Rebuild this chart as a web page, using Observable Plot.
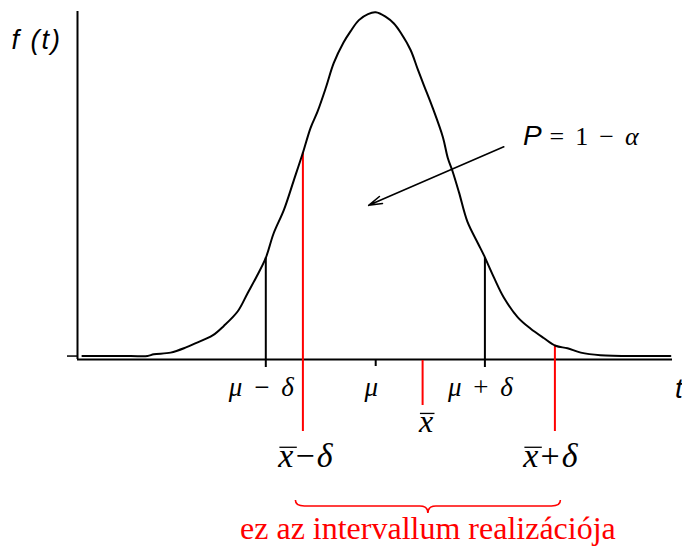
<!DOCTYPE html>
<html>
<head>
<meta charset="utf-8">
<script src="https://cdn.jsdelivr.net/npm/d3@7"></script>
<script src="https://cdn.jsdelivr.net/npm/@observablehq/plot@0.6"></script>
<style>
  html, body { margin: 0; padding: 0; background: #fff; }
  svg { display: block; }
</style>
</head>
<body>
<div id="chart"></div>
<script>
// Density curve f(t), t measured in standard deviations from μ
const curveT = [-4.19, -3.5, -3.26, -3.17, -2.93, -2.71, -2.57, -2.33, -2.17, -1.97, -1.83, -1.71,
  -1.57, -1.46, -1.31, -1.17, -1.04, -0.93, -0.83, -0.71, -0.60, -0.46, -0.36, -0.24, -0.11, 0,
  0.14, 0.26, 0.36, 0.50, 0.60, 0.69, 0.81, 0.96, 1.03, 1.10, 1.19, 1.31, 1.46, 1.54, 1.69, 1.83,
  2.03, 2.21, 2.40, 2.57, 2.74, 2.93, 3.21, 3.79, 4.21];
const curveF = [0, 0, 0, 0.002, 0.004, 0.010, 0.015, 0.024, 0.035, 0.052, 0.073, 0.091,
  0.114, 0.142, 0.170, 0.204, 0.236, 0.265, 0.284, 0.312, 0.340, 0.364, 0.377, 0.390, 0.397, 0.399,
  0.394, 0.386, 0.375, 0.355, 0.333, 0.314, 0.289, 0.254, 0.230, 0.214, 0.190, 0.156, 0.131, 0.118, 0.091, 0.068,
  0.045, 0.032, 0.021, 0.012, 0.009, 0.004, 0.001, 0, 0];

// Points on the t axis
const mu = 0;
const muMinusDelta = -1.57;
const muPlusDelta = 1.56;
const xBar = 0.67;
const xBarMinusDelta = -1.04;
const xBarPlusDelta = 2.56;

// Labels
const tickPositions = [muMinusDelta, mu, muPlusDelta];
const tickLabels = ["μ − δ", "μ", "μ + δ"];
const xBarLabel = "x\u0304";
const intervalPositions = [xBarMinusDelta, xBarPlusDelta];
const intervalLabels = ["x\u0304−δ", "x\u0304+δ"];
const yAxisLabel = "f (t)";
const xAxisLabel = "t";
const caption = "ez az intervallum realizációja";

// Probability annotation: arrow from the label into the area under the curve
const pointerFrom = [1.83, 0.243];
const pointerTo = [-0.10, 0.175];
const probabilityPos = [2.11, 0.245];
const probabilityTerms = ["P", "=", "1", "−", "α"];

// Plot extent
const tDomain = [-4.26, 4.24];
const fDomain = [-0.004, 0.4];
const axisF = fDomain[0];

const curve = curveT.map((t, i) => ({t, f: curveF[i]}));
const fAt = (t) => {
  const i = Math.max(1, Math.min(curveT.length - 1, d3.bisectLeft(curveT, t)));
  const t0 = curveT[i - 1], t1 = curveT[i];
  const k = (t - t0) / (t1 - t0);
  return curveF[i - 1] + k * (curveF[i] - curveF[i - 1]);
};

const SERIF = "'Liberation Serif', 'Times New Roman', serif";
const SANS = "'Liberation Sans', Arial, sans-serif";
const RED = "#ff0000";

// Write a formula: letters italic, operators upright; a combining macron marks an overlined letter
function mathText(parent, str, {x, y, size, family = SERIF, anchor = "middle", fill = "black", spacing = 0, wordSpacing = 0}) {
  const text = parent.append("text")
    .attr("x", x).attr("y", y)
    .attr("text-anchor", anchor)
    .attr("font-family", family)
    .attr("font-size", size)
    .attr("letter-spacing", spacing)
    .attr("word-spacing", wordSpacing)
    .attr("fill", fill);
  const chars = Array.from(str);
  for (let i = 0; i < chars.length; i++) {
    const c = chars[i];
    const ts = text.append("tspan").text(c);
    if (/[A-Za-zα-ωΑ-Ω]/.test(c)) ts.attr("font-style", "italic");
    if (chars[i + 1] === "\u0304") { ts.attr("data-bar", size); i++; }
  }
  return text;
}

// Annotations drawn in screen space from the plot's scales
function annotations(index, scales, values, dims) {
  const {x, y} = scales;
  const g = d3.create("svg:g");
  const axisY = y(axisF);

  tickPositions.forEach((t, i) =>
    mathText(g, tickLabels[i], {x: x(t) - 4, y: axisY + 37, size: 27, wordSpacing: 5}));
  mathText(g, xBarLabel, {x: x(xBar) + 4, y: axisY + 73, size: 32});
  const intervalShift = [4, -3];
  intervalPositions.forEach((t, i) =>
    mathText(g, intervalLabels[i], {x: x(t) + intervalShift[i], y: axisY + 108, size: 34, spacing: 2}));

  // axis titles
  g.append("text").attr("x", dims.marginLeft - 15).attr("y", y(fDomain[1]) + 38)
    .attr("text-anchor", "end").attr("font-family", SANS).attr("font-style", "italic")
    .attr("font-size", 27).attr("letter-spacing", 2).text(yAxisLabel);
  g.append("text").attr("x", x(tDomain[1]) + 3).attr("y", axisY + 39)
    .attr("text-anchor", "start").attr("font-family", SANS).attr("font-style", "italic")
    .attr("font-size", 28).text(xAxisLabel);

  // P = 1 − α
  const p = g.append("text").attr("x", x(probabilityPos[0])).attr("y", y(probabilityPos[1]))
    .attr("text-anchor", "start");
  probabilityTerms.forEach((c, i) => {
    const ts = p.append("tspan").text(c);
    if (i === 0) {
      ts.attr("font-family", SANS).attr("font-style", "italic").attr("font-size", 28);
    } else {
      ts.attr("font-family", SERIF).attr("font-size", 26).attr("dx", i === 1 ? 8 : 11);
      if (/[α-ω]/.test(c)) ts.attr("font-style", "italic");
    }
  });

  // brace under the interval
  const bx0 = x(xBarMinusDelta) - 7, bx1 = x(xBarPlusDelta) + 6, bm = (bx0 + bx1) / 2;
  const by = axisY + 147, top = axisY + 141, tip = axisY + 154;
  g.append("path")
    .attr("d", `M${bx0},${top} Q${bx0},${by} ${bx0 + 9},${by} L${bm - 8},${by} Q${bm},${by} ${bm},${tip}`
      + ` Q${bm},${by} ${bm + 8},${by} L${bx1 - 9},${by} Q${bx1},${by} ${bx1},${top}`)
    .attr("fill", "none").attr("stroke", RED).attr("stroke-width", 1.6);

  g.append("text").attr("x", bm).attr("y", axisY + 180)
    .attr("text-anchor", "middle").attr("font-family", SERIF).attr("font-size", 32)
    .attr("fill", RED).text(caption);
  return g.node();
}

const chart = Plot.plot({
  width: 682,
  height: 548,
  marginLeft: 77,
  marginRight: 10,
  marginTop: 11,
  marginBottom: 189,
  x: {domain: tDomain, axis: null},
  y: {domain: fDomain, axis: null},
  marks: [
    // axes
    Plot.ruleX([{t: tDomain[0]}], {x: "t", y1: fDomain[0], y2: fDomain[1], stroke: "black", strokeWidth: 2}),
    Plot.ruleY([{f: axisF}], {y: "f", x1: tDomain[0], x2: tDomain[1], stroke: "black", strokeWidth: 2}),
    Plot.ruleY([{f: 0}], {y: "f", x1: tDomain[0], x2: tDomain[0], insetLeft: -10, stroke: "black", strokeWidth: 1.5}),
    // μ ± δ and μ
    Plot.ruleX([muMinusDelta, muPlusDelta].map(t => ({t, f: fAt(t)})),
      {x: "t", y1: "f", y2: axisF, insetBottom: -8, stroke: "black", strokeWidth: 2}),
    Plot.ruleX([{t: mu}], {x: "t", y1: axisF, y2: axisF, insetBottom: -7, stroke: "black", strokeWidth: 2}),
    // the realised interval
    Plot.ruleX([xBarMinusDelta, xBarPlusDelta].map(t => ({t, f: fAt(t)})),
      {x: "t", y1: "f", y2: axisF, insetBottom: -72, stroke: RED, strokeWidth: 2}),
    Plot.ruleX([{t: xBar}], {x: "t", y1: axisF, y2: axisF, insetTop: 1, insetBottom: -46, stroke: RED, strokeWidth: 2}),
    // density curve
    Plot.line(curve, {x: "t", y: "f", stroke: "black", strokeWidth: 2, curve: "catmull-rom"}),
    Plot.arrow([{x1: pointerFrom[0], y1: pointerFrom[1], x2: pointerTo[0], y2: pointerTo[1]}],
      {x1: "x1", y1: "y1", x2: "x2", y2: "y2", stroke: "black", strokeWidth: 1.6, headLength: 13, headAngle: 32}),
    annotations
  ]
});
d3.select(chart).attr("overflow", "visible");
document.getElementById("chart").append(chart);

// overline the letters marked with a macron
d3.select(chart).selectAll("tspan[data-bar]").each(function () {
  const size = +this.getAttribute("data-bar");
  const box = this.getBBox();
  const base = +this.parentNode.getAttribute("y");
  const yy = base - size * 0.58;
  d3.select(this.parentNode.parentNode).append("line")
    .attr("x1", box.x + size * 0.06).attr("x2", box.x + box.width + size * 0.04)
    .attr("y1", yy).attr("y2", yy)
    .attr("stroke", "black").attr("stroke-width", 1.3);
});
</script>
</body>
</html>
